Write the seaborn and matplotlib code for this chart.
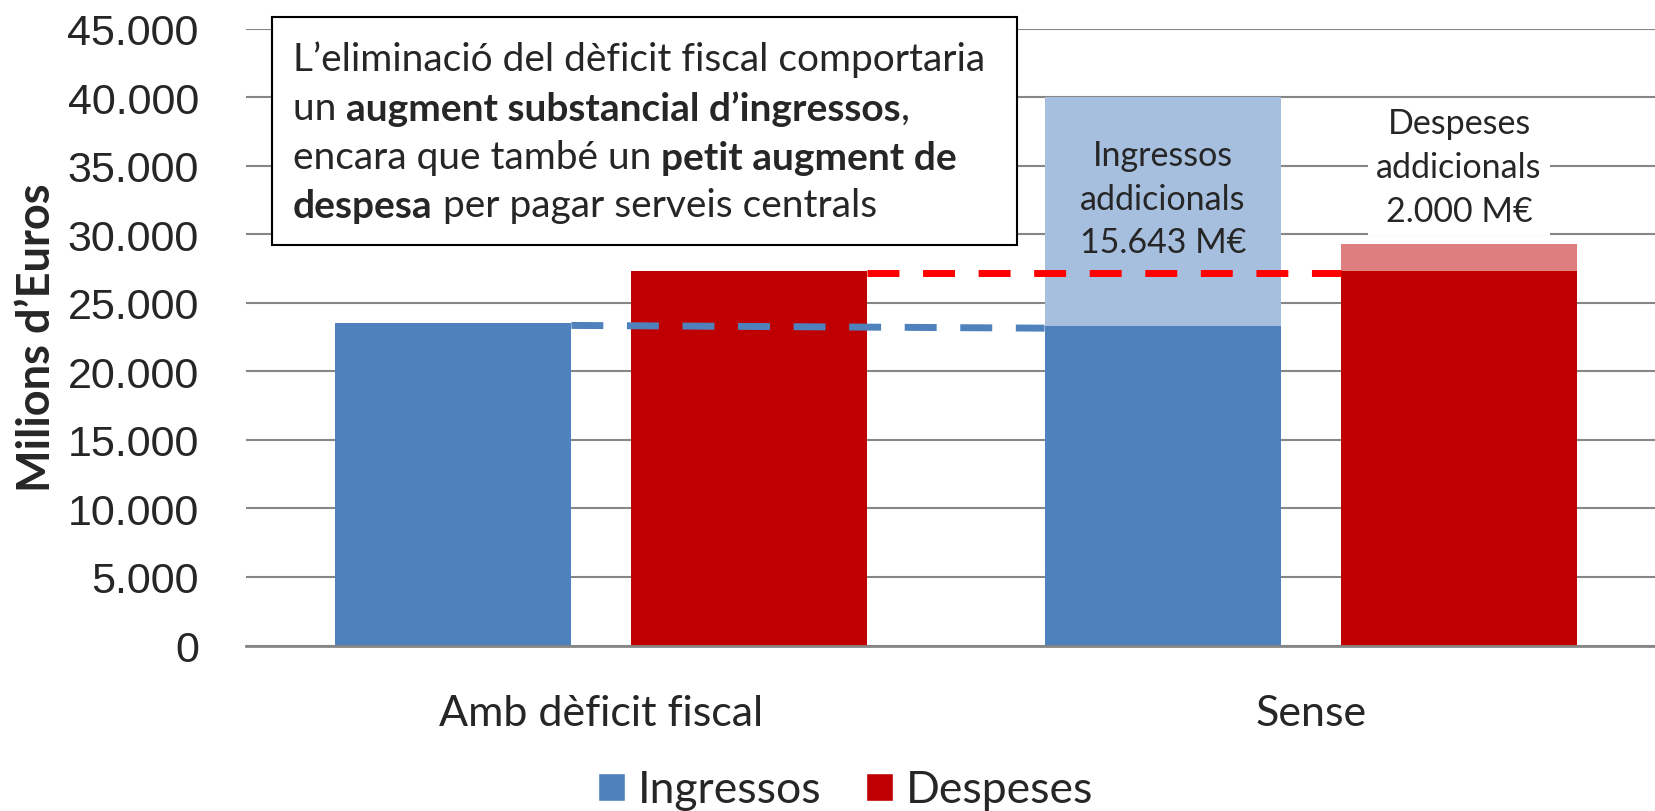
import numpy as np
import pandas as pd
import seaborn as sns
import matplotlib.pyplot as plt
from matplotlib.patches import Patch, Rectangle

# ---- data ----
categories = ['Amb dèficit fiscal', 'Sense']
series = ['Ingressos', 'Despeses']
ingressos = [23500, 23300]
despeses = [27300, 27300]
ingressos_extra = [0, 16700]
despeses_extra = [0, 2000]
blue_dash = [23350, 23150]   # level of the dashed line (start, end)
red_dash = [27200, 27200]
yticks = list(range(0, 45001, 5000))
ytick_labels = [f"{v:,}".replace(',', '.') for v in yticks]

note_lines = [
    [("L’eliminació del dèficit fiscal comportaria", False)],
    [("un ", False), ("augment substancial d’ingressos", True), (",", False)],
    [("encara que també un ", False), ("petit augment de", True)],
    [("despesa", True), (" per pagar serveis centrals", False)],
]
label_ingressos = "Ingressos\naddicionals\n15.643 M€"
label_despeses = "Despeses\naddicionals\n2.000 M€"

dark = {'Ingressos': '#4F81BD', 'Despeses': '#C00000'}
light = {'Ingressos': '#A7BFDE', 'Despeses': '#DF7E7E'}
FONT = 'Lato'

base = pd.DataFrame({
    'cat': categories * 2,
    'serie': [series[0]] * 2 + [series[1]] * 2,
    'val': ingressos + despeses,
})
total = base.copy()
total['val'] = list(np.add(ingressos, ingressos_extra)) + list(np.add(despeses, despeses_extra))

sns.set_style('white')
plt.rcParams['font.family'] = [FONT, 'DejaVu Sans']

fig = plt.figure(figsize=(16.55, 8.12), dpi=100)
ax = fig.add_axes([246 / 1655, 0.2038, 1420 / 1655, 0.7597])

# totals first (light colour), then the base over them
bar_kw = dict(x='cat', y='val', hue='serie', hue_order=series, width=0.834, gap=0.2,
              saturation=1, legend=False, linewidth=0, edgecolor='none', ax=ax)
sns.barplot(data=total, palette=light, **bar_kw)
sns.barplot(data=base, palette=dark, **bar_kw)

bars_i = ax.patches[4:6]
bars_d = ax.patches[6:8]

# dashed reference lines between the groups
x0 = bars_i[0].get_x() + bars_i[0].get_width()
x1 = bars_i[1].get_x()
ax.plot([x0, x1], blue_dash, color=dark['Ingressos'], lw=5, dashes=(4.6, 3.4), zorder=5)
x0 = bars_d[0].get_x() + bars_d[0].get_width()
x1 = bars_d[1].get_x()
ax.plot([x0, x1], red_dash, color='#FF0000', lw=5, dashes=(4.6, 3.4), zorder=5)

# axes styling
ax.set_ylim(0, 45000)
ax.set_xlim(-0.5, 1.5)
ax.set_yticks(yticks)
ax.set_yticklabels(ytick_labels, fontsize=31, family='Liberation Sans')
ax.set_xticks(range(len(categories)))
ax.set_xticklabels(categories, fontsize=31)
ax.tick_params(axis='y', length=0, pad=34)
ax.tick_params(axis='x', length=0, pad=35)
ax.set_xlabel('')
ax.set_ylabel('')
ax.set_axisbelow(True)
ax.yaxis.grid(True, color='#868686', linewidth=1.5)
for s in ['left', 'right', 'top']:
    ax.spines[s].set_visible(False)
ax.spines['bottom'].set_color('#868686')
ax.spines['bottom'].set_linewidth(2)

fig.text(37 / 1655, 0.5838, 'Milions d’Euros', rotation=90, ha='center', va='center',
         fontsize=32.5, fontweight='bold')

# labels for the additional amounts
bi = bars_i[1]
ax.text(bi.get_x() + bi.get_width() / 2, 32600, label_ingressos, ha='center', va='center',
        fontsize=24.5, linespacing=1.45, zorder=6)
bd = bars_d[1]
ax.text(bd.get_x() + bd.get_width() / 2, 34900, label_despeses, ha='center', va='center',
        fontsize=24.5, linespacing=1.45, zorder=6,
        bbox=dict(boxstyle='square,pad=0.25', facecolor='white', edgecolor='none'))

# explanatory box
ax.add_patch(Rectangle((272 / 1655, 1 - 246 / 812), 745 / 1655, 228 / 812,
                       transform=fig.transFigure, facecolor='white', edgecolor='black',
                       linewidth=1.5, clip_on=False, zorder=10))
for i, line in enumerate(note_lines):
    y = 1 - (71 + 49 * i) / 812
    prev = None
    for txt, bold in line:
        w = 'bold' if bold else 'normal'
        if prev is None:
            prev = ax.text(293 / 1655, y, txt, transform=fig.transFigure, fontsize=28,
                           fontweight=w, ha='left', va='baseline', zorder=11)
        else:
            prev = ax.annotate(txt, xy=(1, 0), xycoords=prev, fontsize=28, fontweight=w,
                               ha='left', va='bottom', zorder=11)

handles = [Patch(facecolor=dark[s], label=s) for s in series]
fig.legend(handles=handles, loc='center', bbox_to_anchor=(0.511, 1 - 791 / 812), ncol=2,
           frameon=False, fontsize=32, handlelength=0.6, handleheight=0.6,
           handletextpad=0.3, columnspacing=1.0)

fig.savefig('out.png', dpi=100)
